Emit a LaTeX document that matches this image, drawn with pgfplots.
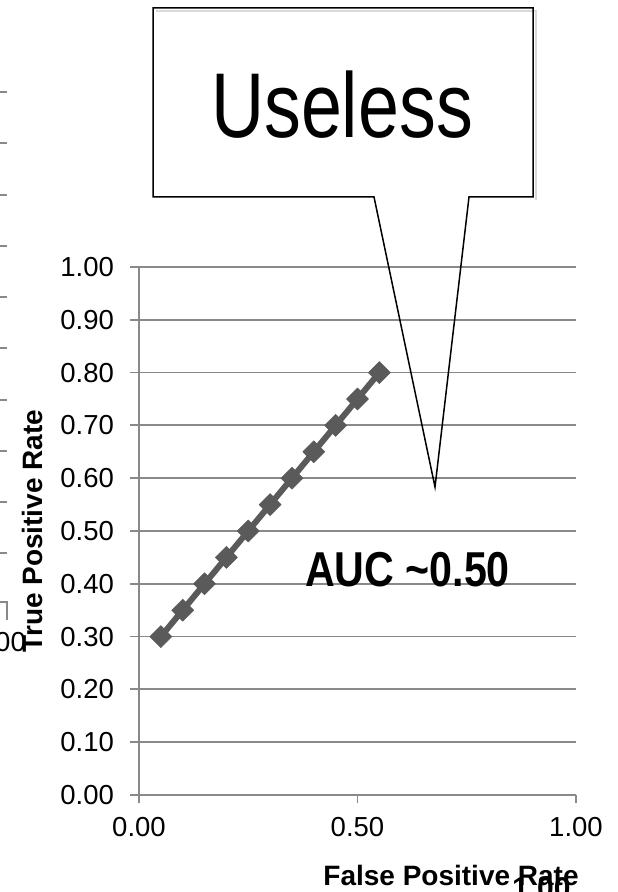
\documentclass[border=0pt]{standalone}
\usepackage{pgfplots}
\pgfplotsset{compat=1.18}
\usepackage{fontspec}
\setmainfont{Liberation Sans}
\definecolor{gridc}{RGB}{137,137,137}
\definecolor{serc}{RGB}{90,90,90}
\begin{document}
\begin{tikzpicture}[x=1pt,y=1pt]
\useasboundingbox (0,0) rectangle (618,892);
% fragments of a neighbouring chart at the left and bottom edges
\foreach \yy in {800,749,697,646,595,544,492,441,390,339}{
  \draw[gridc, line width=1.8pt] (0,\yy) -- (7,\yy);
}
\draw[gridc, line width=1.8pt] (0,290) -- (7,290) -- (7,272);
\node[anchor=base east, inner sep=0pt, font=\fontsize{27.5}{30}\selectfont] at (26,240) {1.00};
\node[anchor=base west, inner sep=0pt, font=\bfseries\fontsize{30}{32}\selectfont] at (512,-6) {1.00};
\begin{axis}[
  at={(139pt,97pt)}, anchor=south west,
  scale only axis, width=437pt, height=528pt,
  xmin=0, xmax=1, ymin=0, ymax=1,
  axis lines=left,
  axis line style={-, draw=gridc, line width=1.8pt},
  xtick={0,0.5,1},
  ytick={0,0.1,0.2,0.3,0.4,0.5,0.6,0.7,0.8,0.9,1.0},
  ymajorgrids,
  major grid style={draw=gridc, line width=1.8pt},
  tick style={draw=gridc, line width=1.8pt},
  tick align=outside,
  major tick length=8.5pt,
  tick label style={font=\fontsize{27.5}{30}\selectfont},
  yticklabel style={xshift=-13pt},
  xticklabel style={yshift=-10pt},
  /pgf/number format/fixed,
  /pgf/number format/fixed zerofill,
  /pgf/number format/precision=2,
  /pgf/number format/assume math mode=true,
  xlabel={False Positive Rate},
  ylabel={True Positive Rate},
  label style={font=\bfseries\fontsize{28}{30}\selectfont},
  xlabel style={at={(axis description cs:0.714,-0.172)}, anchor=base},
  ylabel style={at={(axis description cs:-0.2197,0.5)}, anchor=base},
  clip=false,
]
\addplot[color=serc, line width=6pt, line join=round, mark=square*, mark size=7.8pt,
  mark options={rotate=45, fill=serc, line width=0.5pt}]
  coordinates {(0.05,0.30) (0.10,0.35) (0.15,0.40) (0.20,0.45) (0.25,0.50) (0.30,0.55)
               (0.35,0.60) (0.40,0.65) (0.45,0.70) (0.50,0.75) (0.55,0.80)};
\end{axis}
% callout
\draw[gray!30, line width=2pt] (156,881) -- (536,881) -- (536,692);
\draw[black, line width=1.5pt, line join=miter]
  (153,884) -- (533,884) -- (533,695) -- (469,695) -- (435,405) -- (374,695) -- (153,695) -- cycle;
\node[anchor=base, inner sep=0pt, xscale=0.8, font=\fontsize{92}{95}\selectfont] at (342,754) {Useless};
\node[anchor=base west, inner sep=0pt, xscale=0.84, font=\bfseries\fontsize{49}{50}\selectfont] at (305,305) {AUC \textasciitilde0.50};
\end{tikzpicture}
\end{document}
